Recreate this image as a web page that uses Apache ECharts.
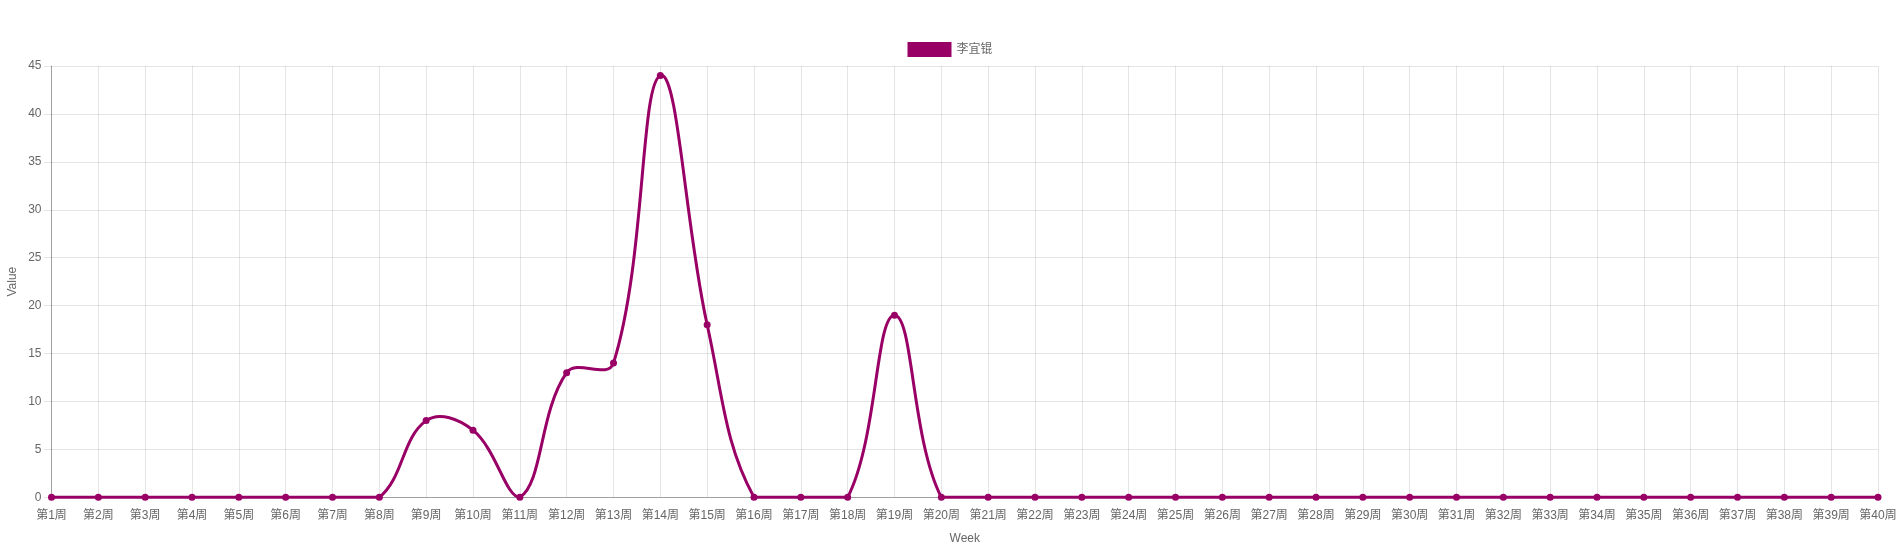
<!DOCTYPE html>
<html>
<head>
<meta charset="utf-8">
<script src="https://cdn.jsdelivr.net/npm/echarts@6/dist/echarts.min.js"></script>
<style>
html,body{margin:0;padding:0;background:#fff;}
#main{width:1900px;height:550px;}
</style>
</head>
<body>
<div id="main"></div>
<script>
const weeks = [];
for (let i = 1; i <= 40; i++) weeks.push('第' + i + '周');
const seriesName = '李宜锟';
const values = [0,0,0,0,0,0,0,0,8,7,0,13,14,44,18,0,0,0,19,0,
                0,0,0,0,0,0,0,0,0,0,0,0,0,0,0,0,0,0,0,0];
const yTicks = {min: 0, max: 45, interval: 5};

const COLOR = '#990066';
const TENSION = 0.4;

function splineCps(p0, p1, p2, t) {
  const d01 = Math.hypot(p1[0] - p0[0], p1[1] - p0[1]);
  const d12 = Math.hypot(p2[0] - p1[0], p2[1] - p1[1]);
  let s01 = d01 / (d01 + d12), s12 = d12 / (d01 + d12);
  if (!isFinite(s01)) s01 = 0;
  if (!isFinite(s12)) s12 = 0;
  const fa = t * s01, fb = t * s12;
  return {
    prev: [p1[0] - fa * (p2[0] - p0[0]), p1[1] - fa * (p2[1] - p0[1])],
    next: [p1[0] + fb * (p2[0] - p0[0]), p1[1] + fb * (p2[1] - p0[1])]
  };
}

function renderSegment(params, api) {
  const i = params.dataIndex;
  const n = values.length;
  if (i >= n - 1) return null;
  const c = k => api.coord([Math.max(0, Math.min(n - 1, k)), values[Math.max(0, Math.min(n - 1, k))]]);
  const p0 = c(i - 1), p1 = c(i), p2 = c(i + 1), p3 = c(i + 2);
  const a = splineCps(p0, p1, p2, TENSION).next;
  const b = splineCps(p1, p2, p3, TENSION).prev;
  const cs = params.coordSys;
  const cap = p => [Math.max(cs.x, Math.min(cs.x + cs.width, p[0])),
                    Math.max(cs.y, Math.min(cs.y + cs.height, p[1]))];
  const ca = cap(a), cb = cap(b);
  return {
    type: 'bezierCurve',
    shape: {x1: p1[0], y1: p1[1], x2: p2[0], y2: p2[1],
            cpx1: ca[0], cpy1: ca[1], cpx2: cb[0], cpy2: cb[1]},
    style: {stroke: COLOR, lineWidth: 3, fill: null}
  };
}

const chart = echarts.init(document.getElementById('main'), null, {renderer: 'canvas'});
const font = "'Liberation Sans', Arial, 'Noto Sans CJK SC', sans-serif";
chart.setOption({
  animation: false,
  textStyle: {fontFamily: font},
  legend: {
    top: 37, left: 'center',
    icon: 'rect', itemWidth: 44, itemHeight: 15, itemGap: 10,
    textStyle: {color: '#666', fontSize: 12, fontFamily: font},
    data: [{name: seriesName, itemStyle: {color: COLOR}}]
  },
  grid: {left: 51.5, right: 22, top: 66, bottom: 52.7, containLabel: false, outerBoundsMode: 'none'},
  xAxis: {
    type: 'category', data: weeks, boundaryGap: false,
    name: 'Week', nameLocation: 'middle', nameGap: 35, nameMoveOverlap: false,
    nameTextStyle: {color: '#666', fontSize: 12},
    axisLine: {lineStyle: {color: 'rgba(0,0,0,0.3)'}},
    axisTick: {show: false},
    axisLabel: {color: '#666', fontSize: 12, interval: 0, margin: 12},
    splitLine: {show: true, lineStyle: {color: 'rgba(0,0,0,0.1)'}}
  },
  yAxis: {
    type: 'value', min: yTicks.min, max: yTicks.max, interval: yTicks.interval,
    name: 'Value', nameLocation: 'middle', nameGap: 33, nameRotate: 90, nameMoveOverlap: false,
    nameTextStyle: {color: '#666', fontSize: 12},
    axisLine: {show: true, lineStyle: {color: 'rgba(0,0,0,0.3)'}},
    axisTick: {show: true, length: 8, lineStyle: {color: 'rgba(0,0,0,0.1)'}},
    axisLabel: {color: '#666', fontSize: 12, margin: 10},
    splitLine: {show: true, lineStyle: {color: 'rgba(0,0,0,0.1)'}}
  },
  series: [{
    name: seriesName + ' curve', type: 'custom', z: 2,
    data: values.map((v, i) => [i, v]),
    encode: {x: 0, y: 1},
    renderItem: renderSegment,
    clip: false, silent: true
  }, {
    name: seriesName, type: 'line', data: values, z: 3,
    symbol: 'circle', symbolSize: 7, showAllSymbol: true,
    lineStyle: {width: 0, opacity: 0},
    itemStyle: {color: COLOR}
  }]
});
</script>
</body>
</html>
